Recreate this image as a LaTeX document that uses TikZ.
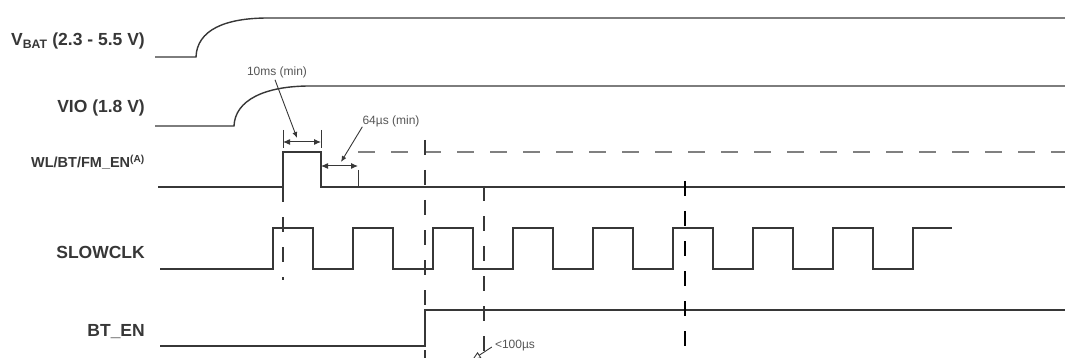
\documentclass[tikz,border=0pt]{standalone}
\usepackage{fontspec}
\setmainfont{Liberation Sans}
\usetikzlibrary{arrows.meta}
\definecolor{ink}{RGB}{55,55,55}
\definecolor{notegray}{RGB}{85,85,85}
\tikzset{
  sig/.style={line width=1.4pt,draw=ink},
  thin sig/.style={line width=1pt,draw=ink},
  lbl/.style={anchor=east,text=ink,inner sep=0pt,font=\bfseries\fontsize{17.5}{19}\selectfont},
  note/.style={inner sep=0pt,text=notegray,font=\fontsize{12}{14}\selectfont},
  vdash/.style={line width=1.1pt,draw=ink,dash pattern=on 15pt off 15pt},
  hdash/.style={line width=1.1pt,draw=black!50,dash pattern=on 17pt off 16pt},
  dim/.style={line width=1pt,draw=ink,{Latex[length=7pt,width=6pt]}-{Latex[length=7pt,width=6pt]}},
  leader/.style={line width=0.9pt,draw=ink,-{Latex[length=6pt,width=5pt]}}
}
\begin{document}
\begin{tikzpicture}[x=1pt,y=-1pt]
\useasboundingbox (0,0) rectangle (1065,358);
\clip (0,0) rectangle (1065,358);
% signal names
\node[lbl] (vbat) at (145,41) {V\textsubscript{BAT} (2.3 - 5.5 V)};
\node[lbl] (vio) at (145,108) {VIO (1.8 V)};
\node[lbl,font=\bfseries\fontsize{14.5}{16}\selectfont] (wlen) at (145,162) {WL/BT/FM\_EN\textsuperscript{(A)}};
\node[lbl] (slowclk) at (145,252) {SLOWCLK};
\node[lbl] (bten) at (145,332) {BT\_EN};
% waveforms
\draw[sig] (155,57) -- (196,57) .. controls (197,30) and (225,18) .. (268,18) -- (1065,18);
\draw[sig] (155,126) -- (234,126) .. controls (235,100) and (265,86) .. (310,86) -- (1065,86);
\draw[sig] (158,187) -- (283,187) -- (283,152) -- (321,152) -- (321,187) -- (1065,187);
\draw[sig] (160,269) foreach \k in {0,...,7}{ -- (273+80*\k,269) -- (273+80*\k,228)
  -- (313+80*\k,228) -- (313+80*\k,269)} -- (913,269) -- (913,228) -- (952,228);
\draw[sig] (160,346) -- (425,346) -- (425,310) -- (1065,310);
% timing marks
\coordinate (pA1) at (283,130); \coordinate (pA2) at (283,148);
\coordinate (pB1) at (321,130); \coordinate (pB2) at (321,148);
\coordinate (pC1) at (358,170); \coordinate (pC2) at (358,187);
\draw[thin sig] (pA1)--(pA2) (pB1)--(pB2) (pC1)--(pC2);
\coordinate (dA) at (283,142); \coordinate (dB) at (321,142);
\coordinate (dC) at (321,166); \coordinate (dD) at (358,166);
\draw[dim] (dA) -- (dB);
\draw[dim] (dC) -- (dD);
\node[note] (t10ms) at (277,72) {10ms (min)};
\node[note] (t64us) at (391,121) {64µs (min)};
\node[note] (t100us) at (515,346) {<100µs};
\coordinate (lA) at (297,138);
\coordinate (lB) at (341,162);
\coordinate (lC) at (472,360);
\draw[leader] (t10ms.south) ++(-2,2) -- (lA);
\draw[leader] (t64us.south west) -- (lB);
\draw[line width=0.9pt,draw=ink,-{Triangle[open,length=9pt,width=7pt]}] (t100us.west) ++(-3,1) -- (lC);
% dashed guides
\coordinate (gS) at (358,152); \coordinate (gE) at (1065,152);
\draw[hdash] (gS) -- (gE);
\draw[vdash] (283,187) -- (283,280);
\draw[vdash] (425,140) -- (425,358);
\draw[vdash] (484,186) -- (484,358);
\draw[vdash,draw=black] (685,181) -- (685,358);
\end{tikzpicture}
\end{document}
